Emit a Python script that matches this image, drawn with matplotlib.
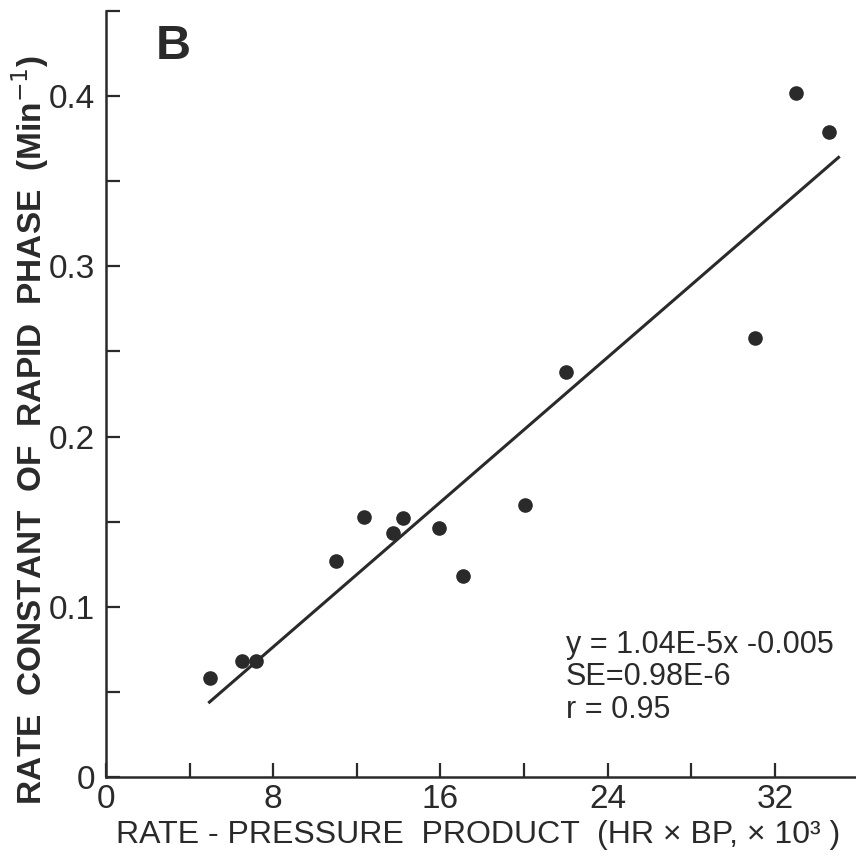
import numpy as np
import matplotlib
matplotlib.use('Agg')
import matplotlib.pyplot as plt
from matplotlib.ticker import MultipleLocator

# rate-pressure product (x 10^3) and rate constant of rapid phase (1/min)
rpp = [4.98, 6.5, 7.2, 11.0, 12.35, 13.75, 14.2, 15.95, 17.1, 20.05, 22.0, 31.05, 33.0, 34.6]
k_rapid = [0.058, 0.068, 0.068, 0.127, 0.153, 0.1435, 0.152, 0.146, 0.118, 0.160, 0.238, 0.258, 0.402, 0.379]

# ends of the regression line as drawn
fit_x = [4.95, 35.05]
fit_y = [0.044, 0.364]

eq_lines = ['y = 1.04E-5x -0.005', 'SE=0.98E-6', 'r = 0.95']

ink = '#2a2a2a'
sans = ['Liberation Sans', 'DejaVu Sans']

fig = plt.figure(figsize=(8.56, 8.58), dpi=100)
ax = fig.add_axes([106/856, 81/858, 750/856, 766/858])

ax.plot(fit_x, fit_y, '-', color=ink, lw=2.2)
ax.plot(rpp, k_rapid, 'o', color=ink, ms=9.5, mec=ink)

ax.set_xlim(0, 750/20.9)
ax.set_ylim(0, 0.45)

ax.spines['top'].set_visible(False)
ax.spines['right'].set_visible(False)
for s in ['left', 'bottom']:
    ax.spines[s].set_linewidth(1.8)
    ax.spines[s].set_color(ink)

ax.xaxis.set_minor_locator(MultipleLocator(4))
ax.yaxis.set_minor_locator(MultipleLocator(0.05))
ax.set_xticks([0, 8, 16, 24, 32])
ax.set_xticklabels(['0', '8', '16', '24', '32'])
ax.set_yticks([0, 0.1, 0.2, 0.3, 0.4])
ax.set_yticklabels(['0', '0.1', '0.2', '0.3', '0.4'])
ax.tick_params(which='both', direction='in', length=10, width=1.6, color=ink)
ax.tick_params(axis='x', pad=5)
ax.tick_params(axis='y', pad=8)
for lab in ax.get_xticklabels() + ax.get_yticklabels():
    lab.set_family(sans)
    lab.set_fontsize(24)
    lab.set_color(ink)

ax.text(3.2, 0.429, 'B', fontsize=35, fontweight='bold', color=ink,
        ha='center', va='center', family=sans)

ys = [0.0776, 0.0588, 0.0394]
for s, yy in zip(eq_lines, ys):
    ax.text(22.0, yy, s, fontsize=22, color=ink, ha='left', va='center',
            family=sans)

fig.text(30/856, 1 - 430/858, 'RATE  CONSTANT  OF  RAPID  PHASE  (Min$^{-1}$)',
         rotation=90, ha='center', va='center', fontsize=24, color=ink,
         fontweight='bold', family=sans)
fig.text(478/856, 1 - 835/858, 'RATE - PRESSURE  PRODUCT  (HR \u00d7 BP, \u00d7 10\u00b3 )',
         ha='center', va='center', fontsize=23, color=ink, family=sans)

plt.savefig('out.png', dpi=100)
